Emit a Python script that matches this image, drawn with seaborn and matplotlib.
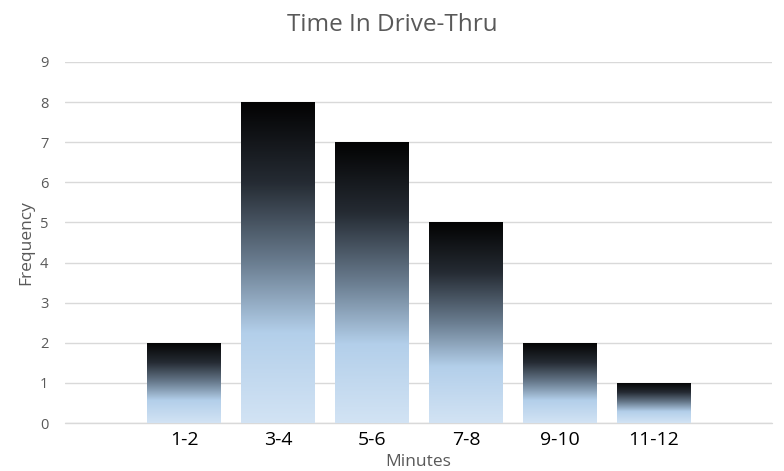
import matplotlib
matplotlib.use("Agg")
import matplotlib.pyplot as plt
import seaborn as sns
import numpy as np
import pandas as pd
from matplotlib.colors import LinearSegmentedColormap

categorias = ["1-2", "3-4", "5-6", "7-8", "9-10", "11-12"]
frequencia = [2, 8, 7, 5, 2, 1]

base = pd.DataFrame({"Minutes": categorias, "Frequency": frequencia})

sns.set_theme(style="white")
plt.rcParams['font.family'] = ['Open Sans', 'DejaVu Sans']

fig = plt.figure(figsize=(7.84, 4.71), dpi=100)
ax = fig.add_axes([0.0829, 0.1019, 0.9018, 0.7665])

sns.barplot(data=base, x="Minutes", y="Frequency", width=0.787, ax=ax,
            color="white", saturation=1)

# degradê preto -> azul claro (estilo Excel)
grad = LinearSegmentedColormap.from_list(
    "drive", [(0.0, "#030303"), (0.25, "#252b33"), (0.5, "#6a7d90"),
              (0.72, "#b3cfea"), (1.0, "#d2e3f4")])
img = np.linspace(0, 1, 256).reshape(-1, 1)
for barra in ax.patches:
    x0, y0 = barra.get_x(), barra.get_y()
    w, h = barra.get_width(), barra.get_height()
    barra.set_facecolor("none")
    barra.set_edgecolor("none")
    im = ax.imshow(img, cmap=grad, aspect="auto", origin="upper",
                   extent=[x0, x0 + w, y0, y0 + h], zorder=2)
    im.set_clip_path(barra)

ax.set_xlim(-1.27, len(categorias) - 1 + 1.26)
ax.set_ylim(0, 9)
ax.set_yticks(range(0, 10))
ax.yaxis.grid(True, color="#d9d9d9", linewidth=1.0, zorder=0)
ax.axhline(0, color="#d9d9d9", linewidth=1.0, zorder=1, clip_on=False)
ax.set_axisbelow(True)
for lado in ["top", "right", "left", "bottom"]:
    ax.spines[lado].set_visible(False)
ax.tick_params(axis="both", length=0)
ax.tick_params(axis="y", labelsize=10.5, labelcolor="#595959", pad=12)
ax.tick_params(axis="x", labelsize=14, labelcolor="#000000", pad=6)

# título centralizado na figura, não no eixo
ax.set_title("Time In Drive-Thru", fontsize=17.5, color="#595959", pad=22,
             x=(0.5 - 0.0829) / 0.9018)
ax.set_xlabel("Minutes", fontsize=12.5, color="#595959", labelpad=3)
ax.set_ylabel("Frequency", fontsize=12.5, color="#595959", labelpad=4)

plt.savefig("out.png", dpi=100)
